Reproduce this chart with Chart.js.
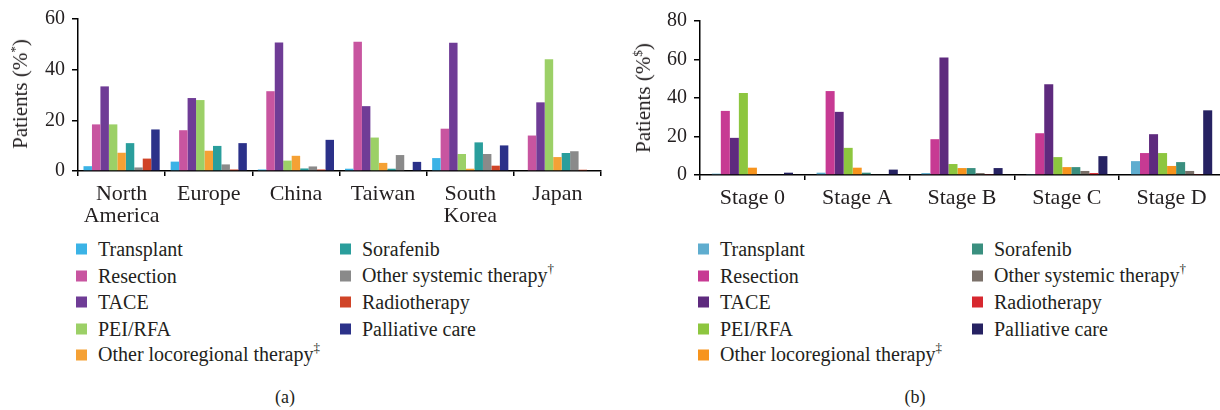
<!DOCTYPE html>
<html>
<head>
<meta charset="utf-8">
<script src="https://cdn.jsdelivr.net/npm/chart.js@4.4.1/dist/chart.umd.min.js"></script>
<style>
  body { margin: 0; width: 1220px; height: 410px; overflow: hidden; position: relative; background: #fff;
         font-family: "Liberation Serif", "DejaVu Serif", serif; color: #231f20; }
  canvas { position: absolute; top: 0; }
  #chartA { left: 0; }
  #chartB { left: 610px; }
  .ytitle { position: absolute; font-size: 21px; white-space: nowrap; transform: translate(-50%, -50%) rotate(-90deg); }
  .ytitle sup { font-size: 13px; }
  .item { position: absolute; font-size: 20px; white-space: nowrap; line-height: 22px; transform: translateY(-50%); }
  .item sup { font-size: 13px; vertical-align: 0; position: relative; top: -9px; }
  .sw { position: absolute; width: 11px; height: 11px; transform: translateY(-50%); }
  .cap { position: absolute; font-size: 18px; transform: translate(-50%, -50%); }
</style>
</head>
<body>
<canvas id="chartA" width="610" height="225"></canvas>
<canvas id="chartB" width="620" height="225"></canvas>
<div class="ytitle" style="left:20px; top:94px;">Patients (%<sup>*</sup>)</div>
<div class="ytitle" style="left:643px; top:98px;">Patients (%<sup>$</sup>)</div>
<div id="legendA"></div>
<div id="legendB"></div>
<div class="cap" style="left:285px; top:397px;">(a)</div>
<div class="cap" style="left:915px; top:397px;">(b)</div>

<script>
// ---------------------------------- DATA -------------------------------------
var treatments = ['Transplant', 'Resection', 'TACE', 'PEI/RFA', 'Other locoregional therapy',
                  'Sorafenib', 'Other systemic therapy', 'Radiotherapy', 'Palliative care'];
var treatmentMarks = ['', '', '', '', '\u2021', '', '\u2020', '', ''];

var regions = [['North', 'America'], 'Europe', 'China', 'Taiwan', ['South', 'Korea'], 'Japan'];
var stages = ['Stage 0', 'Stage A', 'Stage B', 'Stage C', 'Stage D'];

var ticksA = [0, 20, 40, 60];
var ticksB = [0, 20, 40, 60, 80];

// (a) by region, one array per treatment
var transplantA = [1.9, 3.7, 0.6, 0.9, 5.1, 0];
var resectionA  = [18.4, 16.1, 31.5, 51.0, 16.7, 14.0];
var taceA       = [33.4, 28.8, 50.7, 25.6, 50.6, 27.1];
var peiA        = [18.4, 28.0, 4.1, 13.2, 6.7, 44.1];
var otherLocoA  = [7.2, 8.0, 6.0, 3.2, 0.9, 5.5];
var sorafenibA  = [11.0, 9.9, 1.0, 0.9, 11.3, 7.1];
var otherSysA   = [1.4, 2.6, 1.8, 6.3, 6.7, 7.8];
var radioA      = [4.9, 0.6, 0.6, 0, 2.1, 0.5];
var palliativeA = [16.4, 11.0, 12.3, 3.6, 10.1, 0];

// (b) by stage
var transplantB = [0.7, 1.2, 1.0, 0.5, 7.2];
var resectionB  = [33.3, 43.6, 18.6, 21.7, 11.4];
var taceB       = [19.3, 32.8, 61.0, 47.1, 21.2];
var peiB        = [42.6, 14.1, 5.7, 9.3, 11.4];
var otherLocoB  = [3.8, 3.8, 3.6, 4.1, 4.7];
var sorafenibB  = [0, 1.2, 3.6, 4.1, 6.7];
var otherSysB   = [0, 0, 1.0, 2.1, 2.1];
var radioB      = [0, 0, 0.5, 1.0, 0.5];
var palliativeB = [1.2, 2.8, 3.6, 9.8, 33.6];

var colorsA = ['#3bb3e6', '#c855a0', '#6f3c96', '#9cd067', '#f5a135', '#2a9e9c', '#8a8a8a', '#d04428', '#2b3189'];
var colorsB = ['#5fadcf', '#c73a93', '#5e2a7e', '#8dc63f', '#f7941d', '#3a8f7f', '#7a7069', '#d7282f', '#262262'];

var seriesA = [transplantA, resectionA, taceA, peiA, otherLocoA, sorafenibA, otherSysA, radioA, palliativeA];
var seriesB = [transplantB, resectionB, taceB, peiB, otherLocoB, sorafenibB, otherSysB, radioB, palliativeB];

// --------------------------------- HELPERS -----------------------------------
var FONT = '"Liberation Serif", "DejaVu Serif", serif';
var INK = '#231f20';

var makeDatasets = (series, colors) => series.map((data, i) => ({
  label: treatments[i],
  data: data,
  backgroundColor: colors[i],
  borderWidth: 0
}));

var makeChart = (id, labels, datasets, tickList, opts) => {
  var ctx = document.getElementById(id).getContext('2d');
  return new Chart(ctx, {
    type: 'bar',
    data: { labels: labels, datasets: datasets },
    options: {
      responsive: false,
      animation: false,
      devicePixelRatio: 1,
      categoryPercentage: opts.catPct,
      barPercentage: 1.0,
      layout: { padding: opts.padding },
      plugins: { legend: { display: false }, tooltip: { enabled: false } },
      scales: {
        x: {
          afterFit: (s) => { s.height = opts.xHeight; },
          grid: { drawOnChartArea: false, color: '#000', tickLength: 5, lineWidth: 1.5 },
          border: { color: '#000', width: 1.5 },
          ticks: { color: INK, padding: 7, font: { family: FONT, size: 22, lineHeight: 1.0 }, maxRotation: 0 }
        },
        y: {
          min: 0,
          max: tickList[tickList.length - 1],
          afterFit: (s) => { s.width = opts.yWidth; },
          afterBuildTicks: (s) => { s.ticks = tickList.map((v) => ({ value: v })); },
          grid: { drawOnChartArea: false, color: '#000', tickLength: 6, lineWidth: 1.5 },
          border: { color: '#000', width: 1.5 },
          ticks: { color: INK, padding: 7, font: { family: FONT, size: 20 } }
        }
      }
    }
  });
};

var buildLegend = (id, colors, cols) => {
  var rows = [249, 275.5, 302, 328.5, 355];
  var html = '';
  treatments.forEach((name, i) => {
    var col = i < 5 ? 0 : 1;
    var y = rows[i < 5 ? i : i - 5];
    var x = cols[col];
    var mark = treatmentMarks[i] ? '<sup>' + treatmentMarks[i] + '</sup>' : '';
    html += '<div class="sw" style="left:' + x + 'px; top:' + y + 'px; background:' + colors[i] + '"></div>';
    html += '<div class="item" style="left:' + (x + 22) + 'px; top:' + y + 'px;">' + name + mark + '</div>';
  });
  document.getElementById(id).innerHTML = html;
};

// --------------------------------- CHARTS ------------------------------------
var chartA = makeChart('chartA', regions, makeDatasets(seriesA, colorsA), ticksA,
  { catPct: 0.874, padding: { left: 0, right: 9, top: 15, bottom: 0 }, yWidth: 78, xHeight: 54 });

var chartB = makeChart('chartB', stages, makeDatasets(seriesB, colorsB), ticksB,
  { catPct: 0.775, padding: { left: 0, right: 6, top: 21, bottom: 0 }, yWidth: 90, xHeight: 50 });

buildLegend('legendA', colorsA, [76, 340]);
buildLegend('legendB', colorsB, [698, 972]);
</script>
</body>
</html>
